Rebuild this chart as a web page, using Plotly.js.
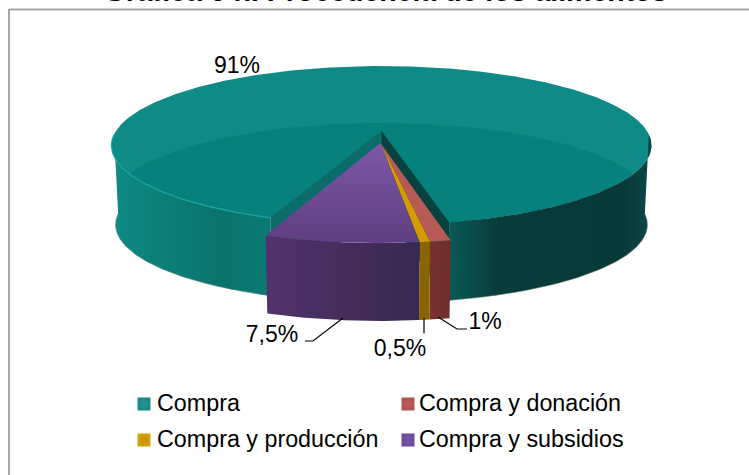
<!DOCTYPE html>
<html>
<head>
<meta charset="utf-8">
<script src="https://cdn.plot.ly/plotly-3.0.1.min.js"></script>
<style>html,body{margin:0;padding:0;background:#fff;overflow:hidden}</style>
</head>
<body>
<div id="chart" style="width:749px;height:475px"></div>
<script>
// ---- data ----
var categories = ["Compra", "Compra y donación", "Compra y producción", "Compra y subsidios"];
var shares = [91, 1, 0.5, 7.5];
var pctLabels = ["91%", "1%", "0,5%", "7,5%"];
var titleText = "Gráfica 6 n. Procedencia de los alimentos";
var swatchColors = ["#1a8a89", "#b5514f", "#d3a005", "#6a4a9c"];
var swatchEdges = ["#279493", "#bb605e", "#c39500", "#7558a6"];
var topColors = ["#0e8a87", "#b85a55", "#d49c00", "#6f4c99"];

// ---- projection of the 3D pie onto the axes ----
var FONT = "'Liberation Sans', Arial, sans-serif";
var CX = 381.5, CY = 131, A = 265.5, B = 76.8, P = 0.182;
var BOTTOM_Y = 210.5, BOTTOM_SCALE = 0.985;
var EXPLODE = 0.153, START = 12.1, BAND_SHIFT = 57;

function project(deg, r, explode, bottom) {
  var t = deg * Math.PI / 180;
  var u = r * Math.sin(t), v = r * Math.cos(t) + explode;
  var w = 1 - P * v;
  var cx = explode ? CX - 1 : CX;
  if (bottom) return [cx + BOTTOM_SCALE * A * u / w, BOTTOM_Y + BOTTOM_SCALE * B * v / w];
  return [cx + A * u / w, CY + B * v / w];
}
function arc(a0, a1, explode, bottom) {
  var n = Math.max(2, Math.ceil(Math.abs(a1 - a0) * 2)), out = [];
  for (var i = 0; i <= n; i++) out.push(project(a0 + (a1 - a0) * i / n, 1, explode, bottom));
  return out;
}
function poly(points, opts) {
  var tr = {
    type: "scatter", mode: "lines", x: points.map(function (p) { return p[0]; }),
    y: points.map(function (p) { return p[1]; }), fill: "toself", line: {width: 0},
    hoverinfo: "skip", showlegend: false
  };
  for (var k in opts) tr[k] = opts[k];
  return tr;
}
function hgrad(stops) { return {type: "horizontal", colorscale: stops}; }
function vgrad(stops) { return {type: "vertical", colorscale: stops}; }
function lineTrace(pts, color, width) {
  return {type: "scatter", mode: "lines", x: pts.map(function (p) { return p[0]; }), y: pts.map(function (p) { return p[1]; }),
    line: {color: color, width: width}, hoverinfo: "skip", showlegend: false};
}
function yOnRim(rim, x) {
  for (var i = 1; i < rim.length; i++) {
    var a = rim[i - 1], b = rim[i];
    if ((a[0] - x) * (b[0] - x) <= 0 && a[0] !== b[0]) return a[1] + (b[1] - a[1]) * (x - a[0]) / (b[0] - a[0]);
  }
  return null;
}

// angles (degrees from the front, positive to the right), from the shares
var total = shares.reduce(function (a, b) { return a + b; }, 0);
var deg = shares.map(function (s) { return s / total * 360; });
var redEnd = START - deg[1], orangeEnd = redEnd - deg[2], purpleEnd = orangeEnd - deg[3];
var SIDE = 79.5;

var traces = [];
// main slice, top face
var mainTop = [project(0, 0, 0, false)].concat(arc(START, START + deg[0], 0, false));
traces.push(poly(mainTop, {fillcolor: topColors[0]}));
// darker soft area: far rim of the disc slid towards the viewer, stopped by the near rim
var farRimPts = arc(SIDE, 360 - SIDE, 0, false);
var nearRimPts = arc(-SIDE, SIDE, 0, false);
var upper = [], lower = [];
for (var px = 112; px <= 651; px += 2) {
  var yf = yOnRim(farRimPts, px), yn = yOnRim(nearRimPts, px);
  if (yf !== null && yn !== null && yf + BAND_SHIFT < yn) { upper.push([px, yf + BAND_SHIFT]); lower.unshift([px, yn]); }
}
traces.push(poly(upper.concat(lower), {fillcolor: "#07817d"}));

// main slice, outer walls
var wallL = arc(purpleEnd, -SIDE - 8, 0, false).concat(arc(-SIDE - 8, purpleEnd, 0, true));
wallL.push(project(purpleEnd, 1, 0, false));
traces.push(poly(wallL, {fillcolor: "#0a756f", fillgradient: hgrad([[0, "#0e8a84"], [0.25, "#0c817b"], [0.7, "#09736c"], [1, "#0a7b74"]])}));
var wallR = arc(START, SIDE + 8, 0, false).concat(arc(SIDE + 8, START, 0, true));
wallR.push(project(START, 1, 0, false));
traces.push(poly(wallR, {fillcolor: "#083a38", fillgradient: hgrad([[0, "#0a5a58"], [0.25, "#083c3a"], [0.85, "#073937"], [1, "#0b4846"]])}));
// rim highlight and ground shadow
traces.push(lineTrace(arc(purpleEnd, -SIDE - 8, 0, false), "#18a5a0", 1.3));
traces.push(lineTrace(arc(purpleEnd, -SIDE - 8, 0, true), "rgba(110,120,120,0.55)", 1));
traces.push(lineTrace(arc(START, SIDE + 8, 0, true), "rgba(110,120,120,0.55)", 1));

// main slice, inner faces of the cut
var apexT = project(0, 0, 0, false), apexB = project(0, 0, 0, true);
traces.push(poly([apexT, project(purpleEnd, 1, 0, false), project(purpleEnd, 1, 0, true), apexB, apexT], {fillcolor: "#0b6c6a"}));
traces.push(poly([apexT, project(START, 1, 0, false), project(START, 1, 0, true), apexB, apexT], {fillcolor: "#084240"}));
var eApexT = project(0, 0, EXPLODE, false);

// pulled-out slices: walls then top faces
var pieces = [
  {from: START, to: redEnd, wall: [[0, "#78322f"], [1, "#6e2e2c"]], top: null, c: topColors[1]},
  {from: redEnd, to: orangeEnd, wall: [[0, "#8a6400"], [1, "#8a6400"]], top: null, c: topColors[2]},
  {from: orangeEnd, to: purpleEnd, wall: [[0, "#51346c"], [0.5, "#442d5c"], [1, "#3a2850"]], top: [[0, "#5e3f80"], [1, "#7d58a8"]], c: topColors[3]}
];
pieces.forEach(function (pc) {
  var w = arc(pc.from, pc.to, EXPLODE, false).concat(arc(pc.to, pc.from, EXPLODE, true));
  w.push(project(pc.from, 1, EXPLODE, false));
  traces.push(poly(w, {fillcolor: pc.wall[0][1], fillgradient: hgrad(pc.wall)}));
  var t = [eApexT].concat(arc(pc.from, pc.to, EXPLODE, false)); t.push(eApexT);
  var o = {fillcolor: pc.c};
  if (pc.top) o.fillgradient = vgrad(pc.top);
  traces.push(poly(t, o));
});

// leader lines
var leaderX = [[305, 313, 343], [424, 424], [438, 457, 467]];
var leaderY = [[341, 341, 318], [318, 333.5], [317, 329, 329]];
leaderX.forEach(function (xs, i) {
  traces.push({type: "scatter", mode: "lines", x: xs, y: leaderY[i], line: {color: "#000", width: 1.2}, hoverinfo: "skip", showlegend: false});
});
// value labels
var labelX = [237, 485, 400, 272], labelY = [67, 323, 350, 336];
traces.push({type: "scatter", mode: "text", x: labelX, y: labelY, text: pctLabels, textposition: "middle center",
  textfont: {family: FONT, size: 23, color: "#000"}, hoverinfo: "skip", showlegend: false, cliponaxis: false});
// legend entries
var swatchX = [144, 408, 144, 408], swatchY = [404, 404, 440, 440];
var legTextX = [157, 419, 157, 419], legTextY = [405, 405, 441, 441];
categories.forEach(function (c, i) {
  traces.push({type: "scatter", mode: "markers", name: c, x: [swatchX[i]], y: [swatchY[i]],
    marker: {symbol: "square", size: 13, color: swatchColors[i], line: {width: 0}, gradient: {type: "radial", color: swatchEdges[i]}},
    hoverinfo: "skip", showlegend: false, cliponaxis: false});
  traces.push({type: "scatter", mode: "text", x: [legTextX[i]], y: [legTextY[i]], text: [c], textposition: "middle right",
    textfont: {family: FONT, size: 23.3, color: "#000"}, hoverinfo: "skip", showlegend: false, cliponaxis: false});
});

var axis = {visible: false, fixedrange: true, showgrid: false, zeroline: false};
var layout = {
  width: 749, height: 475, margin: {l: 0, r: 0, t: 0, b: 0}, showlegend: false,
  paper_bgcolor: "#fff", plot_bgcolor: "#fff",
  title: {text: titleText, x: 0.5147, xanchor: "center", y: 0.9985, yanchor: "bottom", font: {family: FONT, size: 28.5, color: "#000", weight: 700}},
  xaxis: Object.assign({range: [0, 749]}, axis),
  yaxis: Object.assign({range: [475, 0]}, axis),
  shapes: [
    {type: "line", xref: "x", yref: "y", x0: 9, x1: 749, y0: 9.5, y1: 9.5, line: {color: "#a6a6a6", width: 2}},
    {type: "line", xref: "x", yref: "y", x0: 9, x1: 9, y0: 9, y1: 475, line: {color: "#a6a6a6", width: 2}}
  ]
};
Plotly.newPlot("chart", traces, layout, {displayModeBar: false, staticPlot: true});
</script>
</body>
</html>
